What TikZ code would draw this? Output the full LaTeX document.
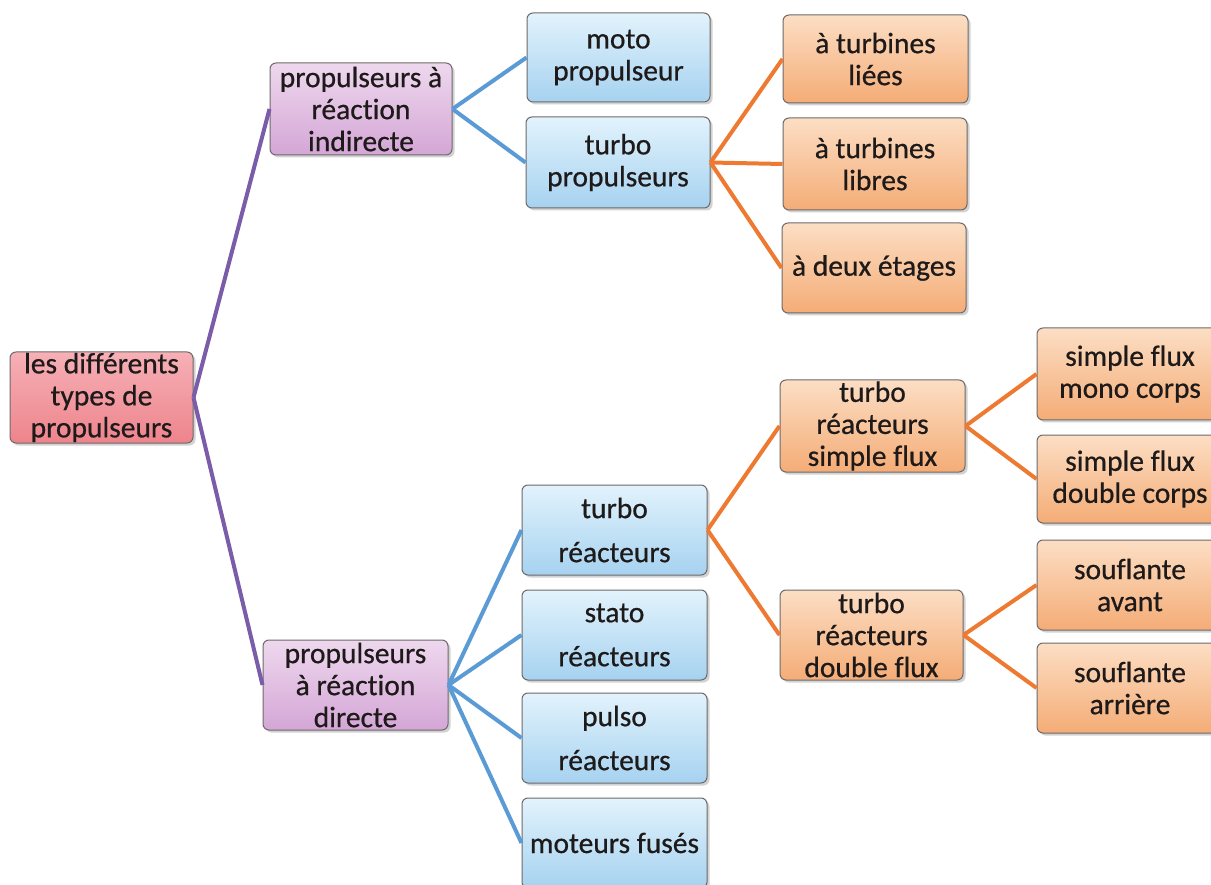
\documentclass[tikz,border=0pt]{standalone}
\usepackage{fontspec}
\setmainfont{Carlito}[Ligatures={NoCommon},FakeBold=0.6]
\usetikzlibrary{shadows}
\definecolor{rootT}{HTML}{F6B0B6}
\definecolor{rootB}{HTML}{EE848C}
\definecolor{purT}{HTML}{EED8EE}
\definecolor{purB}{HTML}{D4A6D6}
\definecolor{bluT}{HTML}{E2F3FC}
\definecolor{bluB}{HTML}{A6D2F0}
\definecolor{orgT}{HTML}{FCDEC4}
\definecolor{orgB}{HTML}{F4AC76}
\definecolor{lpur}{HTML}{7A5CA8}
\definecolor{lblu}{HTML}{5B9BD5}
\definecolor{lorg}{HTML}{EE7A32}
\definecolor{bord}{HTML}{6E6A6A}
\definecolor{txt}{HTML}{1E1A1A}
\tikzset{
  box/.style={rounded corners=6pt, draw=bord, line width=1pt, align=center,
    inner sep=0pt, text=txt, font=\fontsize{29.5}{32}\selectfont,
    drop shadow={shadow xshift=2.5pt, shadow yshift=-2.5pt, opacity=0.35}},
  rootbox/.style={box, top color=rootT, bottom color=rootB},
  purbox/.style={box, top color=purT, bottom color=purB},
  blubox/.style={box, top color=bluT, bottom color=bluB},
  orgbox/.style={box, top color=orgT, bottom color=orgB},
  wpur/.style={draw=lpur, line width=4pt},
  wblu/.style={draw=lblu, line width=4pt},
  worg/.style={draw=lorg, line width=4pt},
}
\begin{document}
\begin{tikzpicture}[x=1pt,y=-1pt]
\useasboundingbox (0,0) rectangle (1211,885);
\clip (0,0) rectangle (1211,885);
\fill[white] (0,0) rectangle (1211,885);

\node[rootbox, minimum width=183pt, minimum height=91pt] (root) at (101.5,397.5) {les différents\\types de\\propulseurs};
\node[purbox, minimum width=182pt, minimum height=92pt] (p1) at (361,109) {propulseurs à\\réaction\\indirecte};
\node[purbox, minimum width=185pt, minimum height=90pt] (p2) at (355.5,685) {propulseurs\\à réaction\\directe};

\node[blubox, minimum width=183pt, minimum height=89pt] (moto) at (618.5,57.5) {moto\\propulseur};
\node[blubox, minimum width=184pt, minimum height=91pt] (tprop) at (618,162.5) {turbo\\propulseurs};

\node[orgbox, minimum width=185pt, minimum height=88pt] (liees) at (875.5,59) {à turbines\\liées};
\node[orgbox, minimum width=184pt, minimum height=92pt] (libres) at (875,164) {à turbines\\libres};
\node[orgbox, minimum width=184pt, minimum height=90pt] (deux) at (874,268) {à deux étages};

\node[blubox, minimum width=185pt, minimum height=90pt] (treac) at (614.5,530) {turbo\\[12pt]réacteurs};
\node[blubox, minimum width=185pt, minimum height=90pt] (stato) at (614.5,635) {stato\\[12pt]réacteurs};
\node[blubox, minimum width=185pt, minimum height=90pt] (pulso) at (614.5,738) {pulso\\[12pt]réacteurs};
\node[blubox, minimum width=185pt, minimum height=90pt] (fuses) at (614.5,843) {moteurs fusés};

\node[orgbox, minimum width=185pt, minimum height=92pt] (trsf) at (872.5,426) {turbo\\réacteurs\\simple flux};
\node[orgbox, minimum width=183pt, minimum height=90pt] (trdf) at (871.5,635) {turbo\\réacteurs\\double flux};

\node[orgbox, minimum width=186pt, minimum height=92pt] (sfmc) at (1130,374) {simple flux\\mono corps};
\node[orgbox, minimum width=186pt, minimum height=88pt] (sfdc) at (1130,479) {simple flux\\double corps};
\node[orgbox, minimum width=186pt, minimum height=90pt] (sav) at (1130,585) {souflante\\avant};
\node[orgbox, minimum width=186pt, minimum height=90pt] (sar) at (1130,688) {souflante\\arrière};

\draw[wpur] (root.east) -- (p1.west);
\draw[wpur] (root.east) -- (p2.west);
\draw[wblu] (p1.east) -- (moto.west);
\draw[wblu] (p1.east) -- (tprop.west);
\draw[worg] (tprop.east) -- (liees.west);
\draw[worg] (tprop.east) -- (libres.west);
\draw[worg] (tprop.east) -- (deux.west);
\draw[wblu] (p2.east) -- (treac.west);
\draw[wblu] (p2.east) -- (stato.west);
\draw[wblu] (p2.east) -- (pulso.west);
\draw[wblu] (p2.east) -- (fuses.west);
\draw[worg] (treac.east) -- (trsf.west);
\draw[worg] (treac.east) -- (trdf.west);
\draw[worg] (trsf.east) -- (sfmc.west);
\draw[worg] (trsf.east) -- (sfdc.west);
\draw[worg] (trdf.east) -- (sav.west);
\draw[worg] (trdf.east) -- (sar.west);
\end{tikzpicture}
\end{document}
